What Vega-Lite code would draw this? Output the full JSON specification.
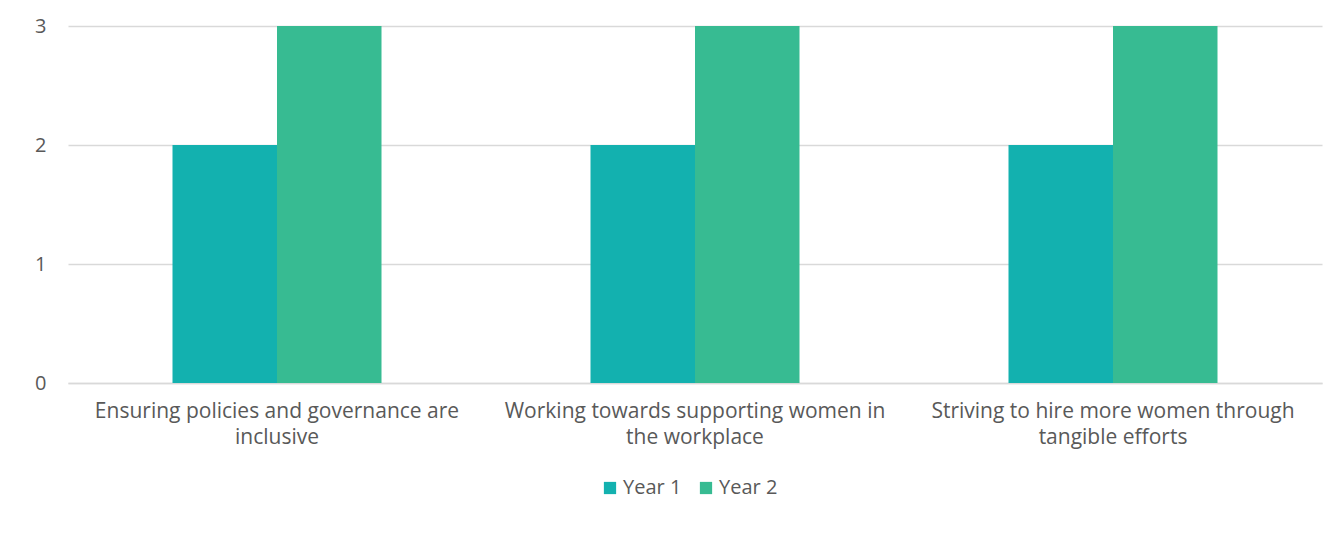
{
  "$schema": "https://vega.github.io/schema/vega-lite/v6.json",
  "width": 1254,
  "height": 357,
  "autosize": {"type": "none"},
  "padding": {"left": 68, "top": 26, "right": 11, "bottom": 171},
  "background": "white",
  "config": {
    "view": {"stroke": null},
    "font": "Open Sans"
  },
  "data": {
    "values": [
      {"category": "Ensuring policies and governance are inclusive", "series": "Year 1", "value": 2},
      {"category": "Ensuring policies and governance are inclusive", "series": "Year 2", "value": 3},
      {"category": "Working towards supporting women in the workplace", "series": "Year 1", "value": 2},
      {"category": "Working towards supporting women in the workplace", "series": "Year 2", "value": 3},
      {"category": "Striving to hire more women through tangible efforts", "series": "Year 1", "value": 2},
      {"category": "Striving to hire more women through tangible efforts", "series": "Year 2", "value": 3}
    ]
  },
  "mark": {"type": "bar"},
  "encoding": {
    "x": {
      "field": "category",
      "type": "nominal",
      "sort": null,
      "title": null,
      "scale": {"paddingInner": 0.5, "paddingOuter": 0.25},
      "axis": {
        "labelAngle": 0,
        "domain": true,
        "domainColor": "#d9d9d9",
        "domainWidth": 1.5,
        "ticks": false,
        "labelPadding": 17,
        "labelFontSize": 21,
        "labelColor": "#595959",
        "labelLineHeight": 26,
        "labelLimit": 0,
        "labelExpr": "datum.label == 'Ensuring policies and governance are inclusive' ? ['Ensuring policies and governance are', 'inclusive'] : datum.label == 'Working towards supporting women in the workplace' ? ['Working towards supporting women in', 'the workplace'] : ['Striving to hire more women through', 'tangible efforts']"
      }
    },
    "xOffset": {"field": "series", "type": "nominal"},
    "y": {
      "field": "value",
      "type": "quantitative",
      "title": null,
      "scale": {"domain": [0, 3]},
      "axis": {
        "values": [0, 1, 2, 3],
        "domain": false,
        "ticks": false,
        "labelPadding": 22,
        "labelFontSize": 20,
        "labelColor": "#595959",
        "gridColor": "#d9d9d9",
        "gridWidth": 1.5
      }
    },
    "color": {
      "field": "series",
      "type": "nominal",
      "scale": {"domain": ["Year 1", "Year 2"], "range": ["#13B1AF", "#37BB92"]},
      "legend": {
        "title": null,
        "orient": "none",
        "legendX": 532,
        "legendY": 452,
        "direction": "horizontal",
        "symbolType": "square",
        "symbolSize": 150,
        "symbolStrokeWidth": 0,
        "labelFontSize": 20,
        "labelColor": "#595959",
        "columnPadding": 14,
        "labelOffset": 3
      }
    }
  }
}
